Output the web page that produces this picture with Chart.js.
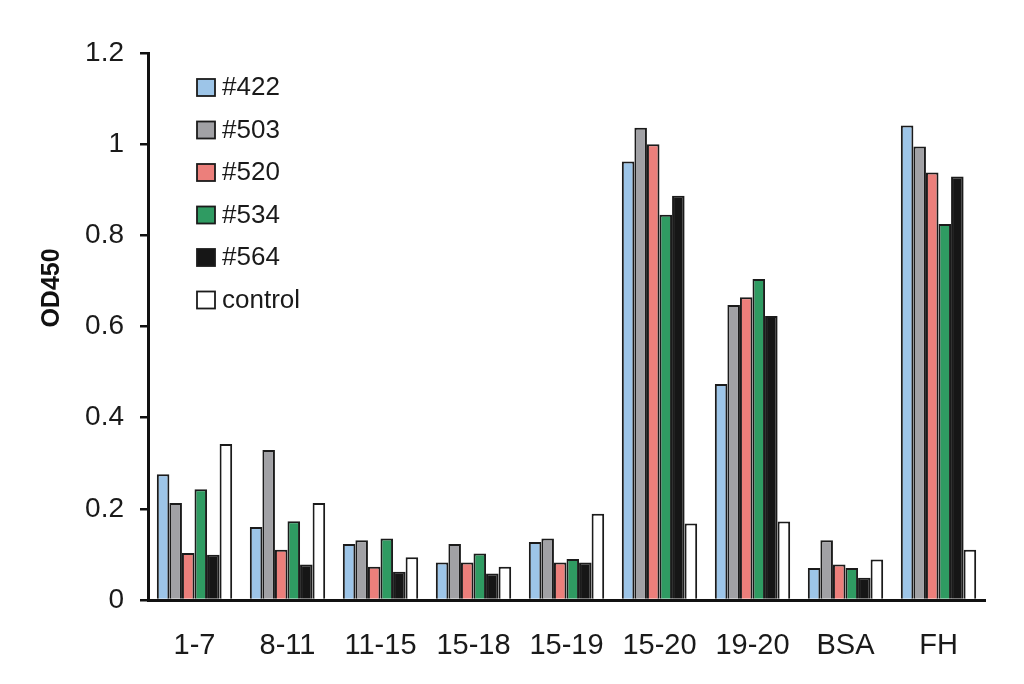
<!DOCTYPE html>
<html>
<head>
<meta charset="utf-8">
<script src="https://cdn.jsdelivr.net/npm/chart.js@4.4.0/dist/chart.umd.min.js"></script>
<style>
  html, body { margin: 0; background: #fff; }
  #wrap { width: 1024px; height: 684px; position: relative; }
</style>
</head>
<body>
<div id="wrap"><canvas id="chart"></canvas></div>
<script>
// data
const categories = ['1-7', '8-11', '11-15', '15-18', '15-19', '15-20', '19-20', 'BSA', 'FH'];
const seriesNames = ['#422', '#503', '#520', '#534', '#564', 'control'];
const s422 = [0.276, 0.160, 0.123, 0.082, 0.127, 0.962, 0.474, 0.070, 1.041];
const s503 = [0.213, 0.329, 0.131, 0.123, 0.135, 1.036, 0.647, 0.131, 0.995];
const s520 = [0.103, 0.110, 0.073, 0.082, 0.082, 1.000, 0.664, 0.078, 0.938];
const s534 = [0.243, 0.173, 0.135, 0.102, 0.090, 0.845, 0.704, 0.070, 0.825];
const s564 = [0.099, 0.078, 0.062, 0.058, 0.082, 0.887, 0.623, 0.049, 0.929];
const sControl = [0.342, 0.213, 0.094, 0.073, 0.189, 0.168, 0.172, 0.089, 0.110];
const yTicks = [0, 0.2, 0.4, 0.6, 0.8, 1, 1.2];

const colors = ['#9dc5e8', '#a1a1a5', '#ec7f7b', '#2f9b62', '#161616', '#ffffff'];
const FONT = '"Liberation Sans", Arial, sans-serif';

const allSeries = [s422, s503, s520, s534, s564, sControl];

// vertical legend in the top-left of the plot + rotated y title
const extras = {
    id: 'extras',
    afterDraw(chart) {
        const ctx = chart.ctx;
        ctx.save();
        chart.data.datasets.forEach((ds, i) => {
            const y = 79 + i * 42.5;
            ctx.fillStyle = ds.backgroundColor;
            ctx.fillRect(197, y, 18, 17);
            ctx.lineWidth = 1.8;
            ctx.strokeStyle = '#1b1b1b';
            ctx.strokeRect(197, y, 18, 17);
            ctx.fillStyle = '#1a1a1a';
            ctx.font = '26px ' + FONT;
            ctx.textAlign = 'left';
            ctx.textBaseline = 'middle';
            ctx.fillText(ds.label, 222, y + 9);
        });
        ctx.translate(52, 288);
        ctx.rotate(-Math.PI / 2);
        ctx.font = 'bold 25px ' + FONT;
        ctx.textAlign = 'center';
        ctx.textBaseline = 'middle';
        ctx.fillStyle = '#111';
        ctx.fillText('OD450', 0, 0);
        ctx.restore();
    }
};

new Chart(document.getElementById('chart'), {
    type: 'bar',
    data: {
        labels: categories,
        datasets: seriesNames.map((name, i) => ({
            label: name,
            data: allSeries[i],
            backgroundColor: colors[i],
            borderColor: '#1b1b1b',
            borderWidth: 2,
            categoryPercentage: 0.81,
            barPercentage: 1.0
        }))
    },
    options: {
        responsive: true,
        maintainAspectRatio: false,
        animation: false,
        devicePixelRatio: 1,
        layout: { padding: { top: 53, right: 39, left: 0, bottom: 0 } },
        plugins: {
            legend: { display: false },
            tooltip: { enabled: false }
        },
        scales: {
            x: {
                grid: { display: false, drawTicks: false },
                border: { display: true, color: '#111', width: 3 },
                ticks: { color: '#1a1a1a', font: { family: FONT, size: 29 }, padding: 29 },
                afterFit: scale => { scale.height = 84; }
            },
            y: {
                min: 0,
                max: 1.2,
                afterBuildTicks: scale => { scale.ticks = yTicks.map(v => ({ value: v })); },
                grid: { drawOnChartArea: false, drawTicks: true, tickLength: 8, color: '#111', lineWidth: 2.5 },
                border: { display: true, color: '#111', width: 3 },
                ticks: {
                    color: '#1a1a1a',
                    font: { family: FONT, size: 28 },
                    padding: 16,
                    callback: v => String(Math.round(v * 10) / 10)
                },
                afterFit: scale => { scale.width = 148; }
            }
        }
    },
    plugins: [extras]
});
</script>
</body>
</html>
